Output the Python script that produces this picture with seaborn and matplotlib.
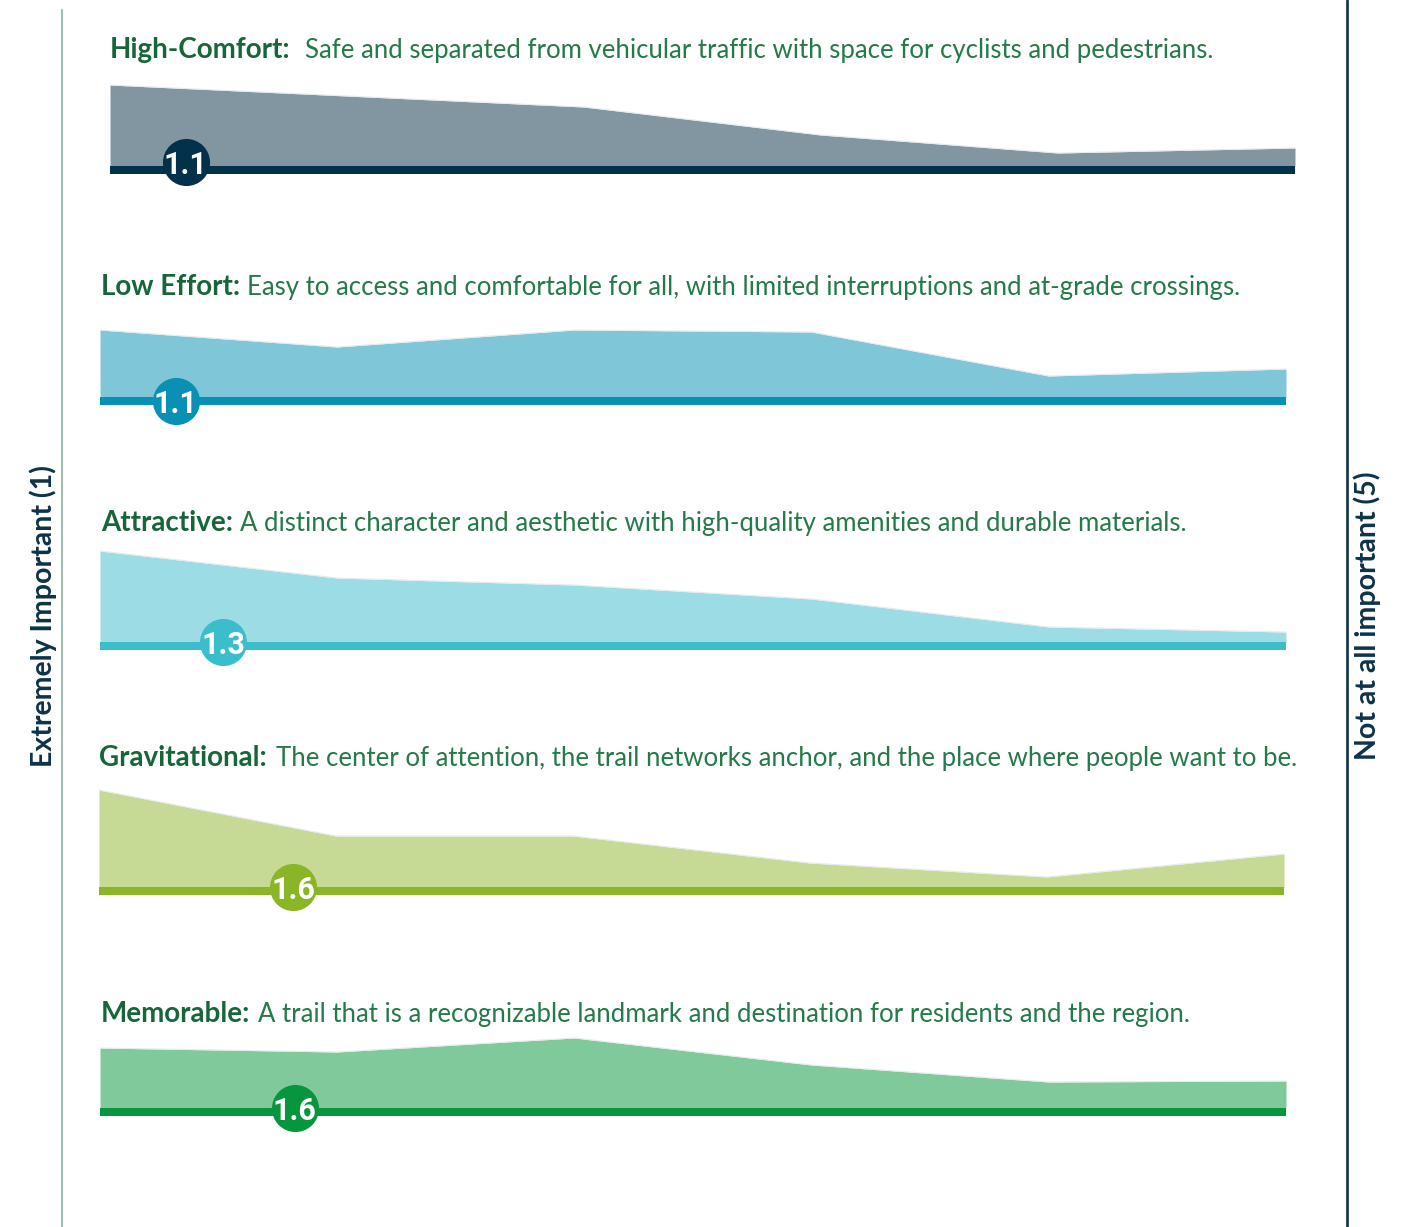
import numpy as np
import pandas as pd
import matplotlib
matplotlib.use("Agg")
import matplotlib.pyplot as plt
from matplotlib.lines import Line2D
import seaborn as sns

# --------------- DATA ---------------
categories = ["High-Comfort:", "Low Effort:", "Attractive:", "Gravitational:", "Memorable:"]
descriptions = [
    "Safe and separated from vehicular traffic with space for cyclists and pedestrians.",
    "Easy to access and comfortable for all, with limited interruptions and at-grade crossings.",
    "A distinct character and aesthetic with high-quality amenities and durable materials.",
    "The center of attention, the trail networks anchor, and the place where people want to be.",
    "A trail that is a recognizable landmark and destination for residents and the region.",
]
avg_scores = [1.1, 1.1, 1.3, 1.6, 1.6]
steps = [0, 1, 2, 3, 4, 5]
high_comfort = [81, 70, 59, 31, 13, 18]
low_effort = [67, 50, 67, 65, 21, 28]
attractive = [91, 64, 57, 43, 15, 10]
gravitational = [97, 51, 51, 24, 10, 33]
memorable = [60, 56, 70, 43, 26, 27]
left_label = "Extremely Important (1)"
right_label = "Not at all important (5)"

# --------------- STYLE / LAYOUT ---------------
area_colors = ["#8296a2", "#80c6d9", "#9cdde5", "#c6da95", "#80c99b"]
line_colors = ["#03304a", "#0a90b5", "#3bbdcc", "#8ab526", "#07963e"]
title_bold = "#16663a"
title_reg = "#247a48"
navy = "#0d3349"

W, H = 1408, 1227
row_left = [110, 100, 100, 99, 100]
row_right = [1295, 1286, 1286, 1284, 1286]
base_top = [166, 397, 642, 887, 1108]
title_left = [110, 101, 101, 99, 101]
title_base = [58, 295, 531, 766, 1022]
title_gap = [14, 7, 7, 9, 8]
marker_y = [4, -4, 0, 0, 0]

sns.set_theme(style="white")
plt.rcParams['font.family'] = ['Lato', 'DejaVu Sans']

fig = plt.figure(figsize=(W / 100, H / 100), dpi=100)
fig.patch.set_facecolor("white")
renderer = fig.canvas.get_renderer()

series = [high_comfort, low_effort, attractive, gravitational, memorable]
for i, vals in enumerate(series):
    df = pd.DataFrame({"step": steps, "share": vals})
    top_px = base_top[i] - 110
    bottom_px = base_top[i] + 8
    ax = fig.add_axes([row_left[i] / W, 1 - bottom_px / H,
                       (row_right[i] - row_left[i]) / W, (bottom_px - top_px) / H])
    ax.set_xlim(0, 5)
    ax.set_ylim(-8, 110)
    ax.fill_between(df["step"], 0, df["share"], color=area_colors[i], lw=0)
    sns.lineplot(data=df, x="step", y="share", color="#e6ecee", lw=0.8, ax=ax)
    ax.fill_between([0, 5], -8, 0, color=line_colors[i], lw=0)
    # average score marker, 1-5 scale placed along the steps
    pos = avg_scores[i] - 0.78
    ax.scatter([pos], [marker_y[i]], s=1150, color=line_colors[i], zorder=5, clip_on=False, lw=0)
    ax.text(pos, marker_y[i], f"{avg_scores[i]}", color="white", fontsize=22, fontweight="bold",
            family=["Roboto", "DejaVu Sans"], ha="center", va="center_baseline",
            zorder=6, clip_on=False)
    ax.axis("off")

    # title: bold name followed by regular description
    t = fig.text(title_left[i] / W, 1 - title_base[i] / H, categories[i],
                 fontsize=20, fontweight="bold", color=title_bold, va="baseline", ha="left")
    bb = t.get_window_extent(renderer=renderer)
    fig.text((bb.x1 + title_gap[i]) / W, 1 - title_base[i] / H, descriptions[i],
             fontsize=18.5, color=title_reg, va="baseline", ha="left")

# side axis labels and rules
fig.text(43 / W, 1 - 616 / H, left_label, rotation=90, fontsize=20.5, fontweight="bold",
         color=navy, ha="center", va="center")
fig.text(1367 / W, 1 - 616 / H, right_label, rotation=90, fontsize=20.5, fontweight="bold",
         color=navy, ha="center", va="center")
fig.add_artist(Line2D([62 / W, 62 / W], [0, 1 - 10 / H], transform=fig.transFigure,
                      color="#9fbfb2", lw=1.5))
fig.add_artist(Line2D([1347 / W, 1347 / W], [0, 1], transform=fig.transFigure,
                      color="#1e3a4c", lw=2))

fig.savefig("out.png", dpi=100, facecolor="white")
